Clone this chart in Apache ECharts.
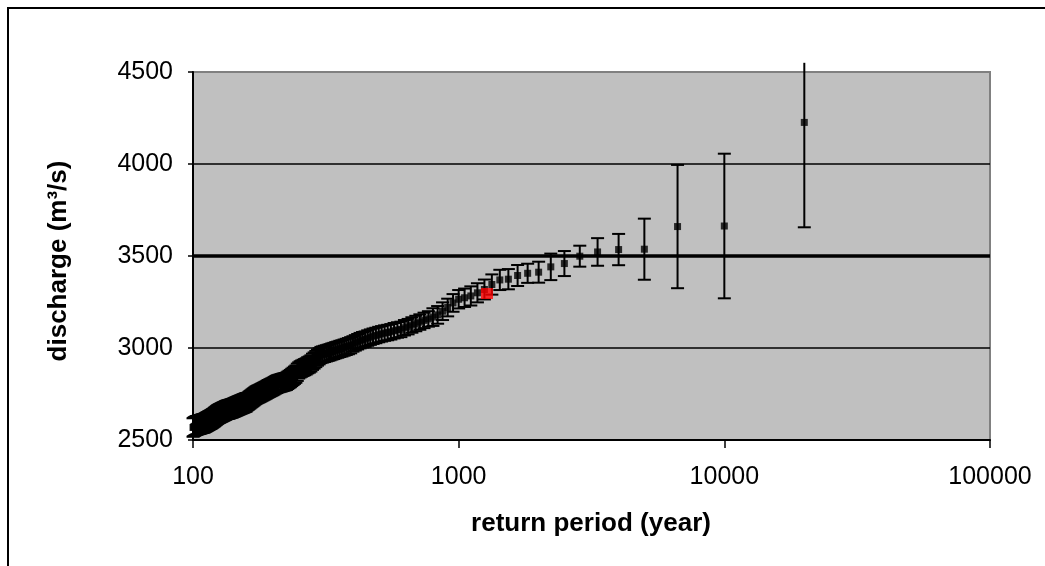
<!DOCTYPE html>
<html><head><meta charset="utf-8">
<script src="https://cdn.jsdelivr.net/npm/echarts@6/dist/echarts.min.js"></script>
<style>html,body{margin:0;padding:0;background:#fff}#c{width:1045px;height:566px}</style>
</head><body><div id="c"></div>
<script>
// return period (year) of each ranked event
const returnPeriods = [
20000,10000,6666.7,5000,4000,3333.3,2857.1,2500,2222.2,2000,
1818.2,1666.7,1538.5,1428.6,1333.3,1250,1176.5,1111.1,1052.6,1000,
952.4,909.1,869.6,833.3,800,769.2,740.7,714.3,689.7,666.7,
645.2,625,606.1,588.2,571.4,555.6,540.5,526.3,512.8,500,
487.8,476.2,465.1,454.5,444.4,434.8,425.5,416.7,408.2,400,
392.2,384.6,377.4,370.4,363.6,357.1,350.9,344.8,339,333.3,
327.9,322.6,317.5,312.5,307.7,303,298.5,294.1,289.9,285.7,
281.7,277.8,274,270.3,266.7,263.2,259.7,256.4,253.2,250,
246.9,243.9,241,238.1,235.3,232.6,229.9,227.3,224.7,222.2,
219.8,217.4,215.1,212.8,210.5,208.3,206.2,204.1,202,200,
198,196.1,194.2,192.3,190.5,188.7,186.9,185.2,183.5,181.8,
180.2,178.6,177,175.4,173.9,172.4,170.9,169.5,168.1,166.7,
165.3,163.9,162.6,161.3,160,158.7,157.5,156.3,155,153.8,
152.7,151.5,150.4,149.3,148.1,147.1,146,144.9,143.9,142.9,
141.8,140.8,139.9,138.9,137.9,137,136.1,135.1,134.2,133.3,
132.5,131.6,130.7,129.9,129,128.2,127.4,126.6,125.8,125,
124.2,123.5,122.7,122,121.2,120.5,119.8,119,118.3,117.6,
117,116.3,115.6,114.9,114.3,113.6,113,112.4,111.7,111.1,
110.5,109.9,109.3,108.7,108.1,107.5,107,106.4,105.8,105.3,
104.7,104.2,103.6,103.1,102.6,102,101.5,101,100.5,100
];
// discharge (m3/s)
const discharge = [
4226,3663,3660,3537,3535,3522,3499,3459,3441,3412,
3406,3394,3374,3370,3345,3318,3300,3283,3273,3265,
3245,3220,3200,3180,3168,3158,3150,3141,3133,3125,
3116,3110,3101,3098,3094,3088,3084,3081,3077,3073,
3068,3064,3059,3054,3048,3045,3040,3034,3028,3022,
3015,3010,3006,3002,2998,2995,2991,2988,2984,2981,
2977,2974,2971,2968,2965,2962,2955,2948,2940,2932,
2925,2916,2910,2906,2900,2896,2892,2888,2884,2878,
2868,2858,2852,2846,2840,2834,2829,2824,2819,2817,
2815,2813,2811,2809,2807,2805,2802,2799,2795,2791,
2788,2785,2782,2779,2776,2772,2769,2766,2763,2760,
2757,2754,2751,2749,2746,2743,2739,2735,2731,2727,
2723,2719,2715,2711,2708,2705,2703,2701,2699,2697,
2695,2693,2691,2689,2687,2685,2683,2681,2679,2677,
2675,2673,2672,2670,2669,2667,2666,2665,2664,2662,
2660,2658,2656,2654,2652,2650,2648,2646,2644,2642,
2640,2637,2634,2631,2628,2625,2622,2619,2617,2614,
2612,2610,2608,2606,2604,2602,2600,2598,2596,2594,
2592,2591,2590,2589,2588,2587,2586,2585,2584,2583,
2582,2581,2580,2579,2578,2576,2574,2572,2570,2568
];
// half width of the confidence interval (m3/s)
const errHalf = [
570,393,335,166,85,75,57,68,72,57,
52,57,55,55,55,54,52,52,50,50,
48,48,48,48,48,42,42,42,42,42,
42,42,42,42,42,42,42,42,42,42,
42,42,42,42,42,42,42,42,42,42,
44,44,44,44,44,44,44,44,44,44,
44,44,44,44,44,44,44,44,44,44,
44,44,44,44,44,44,44,44,44,44,
47,47,47,47,47,47,47,47,47,47,
47,47,47,47,47,47,47,47,47,47,
47,47,47,47,47,47,47,47,47,47,
47,47,47,47,47,47,47,47,47,47,
47,47,47,47,47,50,50,50,50,50,
50,50,50,50,50,50,50,50,50,50,
50,50,50,50,50,50,50,50,50,50,
50,50,50,50,50,50,50,50,50,50,
50,50,50,50,50,50,50,50,50,50,
50,50,50,50,50,50,50,50,50,50,
50,50,50,50,50,50,50,50,50,50,
50,50,50,50,50,50,50,50,50,50
];
const highlightPoint = [[1278, 3296]];
const gridValues = [3000, 4000];
const referenceValue = [3500];
const yMin = 2500, yMax = 4500, yStep = 500;
const xMin = 100, xMax = 100000;
const xTitle = 'return period (year)';
const yTitle = 'discharge (m³/s)';

const points = returnPeriods.map((t, i) => [t, discharge[i]]);
const bars = returnPeriods.map((t, i) => [t, discharge[i] - errHalf[i], discharge[i] + errHalf[i]]);
const clipTop = 4550;

const chart = echarts.init(document.getElementById('c'), null, {renderer: 'canvas'});
chart.setOption({
  animation: false,
  backgroundColor: '#ffffff',
  grid: {left: 193, top: 72, width: 797, height: 368, show: true,
         backgroundColor: '#C0C0C0', borderColor: '#808080', borderWidth: 2},
  xAxis: {
    type: 'log', logBase: 10, min: xMin, max: xMax,
    axisLine: {show: true, lineStyle: {color: '#000', width: 2}},
    axisTick: {show: true, inside: false, length: 8, lineStyle: {color: '#000', width: 1.5}},
    minorTick: {show: false},
    splitLine: {show: false},
    axisLabel: {color: '#000', fontSize: 25, fontFamily: 'Liberation Sans', margin: 25,
                formatter: v => String(Math.round(v))}
  },
  yAxis: {
    type: 'value', min: yMin, max: yMax, interval: yStep,
    axisLine: {show: true, lineStyle: {color: '#000', width: 2}},
    axisTick: {show: true, inside: false, length: 5, lineStyle: {color: '#000', width: 1.5}},
    splitLine: {show: false},
    axisLabel: {color: '#000', fontSize: 25, fontFamily: 'Liberation Sans', margin: 20,
                formatter: v => String(v)}
  },
  graphic: [
    {type: 'rect', z: 100, silent: true, shape: {x: 8, y: 8, width: 1100, height: 600},
     style: {fill: 'none', stroke: '#000', lineWidth: 2}},
    {type: 'text', x: 591, y: 524, silent: true,
     style: {text: xTitle, font: 'bold 26px "Liberation Sans"', fill: '#000',
             textAlign: 'center', textVerticalAlign: 'middle', align: 'center', verticalAlign: 'middle'}},
    {type: 'text', x: 59, y: 261, rotation: Math.PI / 2, silent: true,
     style: {text: yTitle, font: 'bold 26px "Liberation Sans"', fill: '#000',
             textAlign: 'center', textVerticalAlign: 'middle', align: 'center', verticalAlign: 'middle'}}
  ],
  series: [
    {
      type: 'line', data: [], z: 1, silent: true,
      markLine: {
        silent: true, symbol: 'none', label: {show: false},
        data: gridValues.map(v => ({yAxis: v, lineStyle: {color: '#000', width: 1.5, type: 'solid'}}))
          .concat(referenceValue.map(v => ({yAxis: v, lineStyle: {color: '#000', width: 3.5, type: 'solid'}})))
      }
    },
    {
      type: 'custom', z: 2, clip: false, silent: true,
      data: bars,
      renderItem: function (params, api) {
        const x = api.value(0), lo = api.value(1), hi = api.value(2);
        const topV = Math.min(hi, clipTop);
        const pT = api.coord([x, topV]);
        const pB = api.coord([x, lo]);
        const cw = 6.5;
        const st = {stroke: '#000', lineWidth: 2};
        const ch = [
          {type: 'line', shape: {x1: pT[0], y1: pT[1], x2: pB[0], y2: pB[1]}, style: st},
          {type: 'line', shape: {x1: pB[0] - cw, y1: pB[1], x2: pB[0] + cw, y2: pB[1]}, style: st}
        ];
        if (hi <= clipTop) {
          ch.push({type: 'line', shape: {x1: pT[0] - cw, y1: pT[1], x2: pT[0] + cw, y2: pT[1]}, style: st});
        }
        return {type: 'group', children: ch};
      }
    },
    {
      type: 'scatter', z: 3, silent: true, symbol: 'rect', symbolSize: 7,
      itemStyle: {color: '#000'}, data: points
    },
    {
      type: 'scatter', z: 4, silent: true, symbol: 'rect', symbolSize: [12, 11],
      itemStyle: {color: '#FF0000'}, data: highlightPoint
    }
  ]
});
</script>
</body></html>
